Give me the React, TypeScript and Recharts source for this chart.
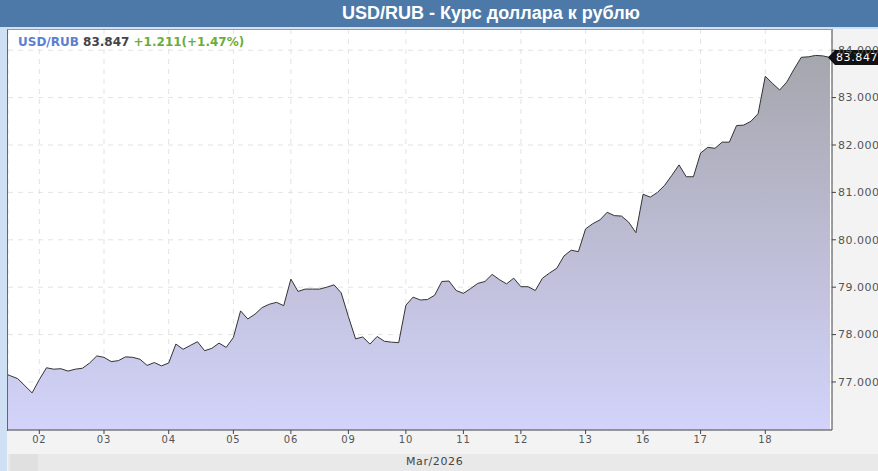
import React from "react";
import {
  AreaChart,
  Area,
  XAxis,
  YAxis,
  CartesianGrid,
  ReferenceDot,
} from "recharts";

// trading-day labels on the x axis and the slot where each day starts
const dayLabels = ["02", "03", "04", "05", "06", "09", "10", "11", "12", "13", "16", "17", "18"];
const dayStarts = [0, 9, 18, 27, 35, 43, 51, 59, 67, 76, 84, 92, 101];

// end of the previous session (slots -5..-1)
const feb27Tail = [77.19, 77.13, 77.07, 76.92, 76.77];

const day02 = [77.05, 77.3, 77.27, 77.28, 77.23, 77.27, 77.29, 77.4, 77.55];
const day03 = [77.52, 77.43, 77.45, 77.53, 77.52, 77.48, 77.35, 77.41, 77.34];
const day04 = [77.4, 77.8, 77.69, 77.77, 77.85, 77.66, 77.71, 77.82, 77.73];
const day05 = [77.94, 78.5, 78.33, 78.43, 78.57, 78.64, 78.68, 78.61];
const day06 = [79.17, 78.91, 78.96, 78.96, 78.96, 79.0, 79.05, 78.88];
const day09 = [78.38, 77.91, 77.95, 77.8, 77.96, 77.86, 77.84, 77.83];
const day10 = [78.62, 78.79, 78.73, 78.74, 78.83, 79.12, 79.13, 78.93];
const day11 = [78.87, 78.97, 79.08, 79.12, 79.27, 79.16, 79.07, 79.19];
const day12 = [79.01, 79.01, 78.93, 79.19, 79.3, 79.4, 79.66, 79.78, 79.75];
const day13 = [80.23, 80.34, 80.42, 80.58, 80.51, 80.5, 80.37, 80.15];
const day16 = [80.96, 80.9, 81.0, 81.15, 81.36, 81.58, 81.33, 81.33];
const day17 = [81.83, 81.95, 81.93, 82.06, 82.06, 82.41, 82.42, 82.5, 82.66];
const day18 = [83.45, 83.3, 83.16, 83.33, 83.6, 83.85, 83.86, 83.89, 83.88, 83.847];

const days = [day02, day03, day04, day05, day06, day09, day10, day11, day12, day13, day16, day17, day18];

const yTicks = [77, 78, 79, 80, 81, 82, 83, 84];

const lastPrice = 83.847;
const change = "+1.211(+1.47%)";

const data: { slot: number; rate: number }[] = [];
feb27Tail.forEach((v, j) => data.push({ slot: j - feb27Tail.length, rate: v }));
days.forEach((arr, i) => {
  arr.forEach((v, j) => data.push({ slot: dayStarts[i] + j, rate: v }));
});
const lastSlot = data[data.length - 1].slot;

const PriceTag = (props: any) => {
  const { cx, cy } = props;
  return (
    <g>
      <path
        d={`M${cx - 2},${cy} L${cx + 5},${cy - 7.5} L878,${cy - 7.5} L878,${cy + 7.5} L${cx + 5},${cy + 7.5} Z`}
        fill="#111"
      />
      <text
        x={cx + 6}
        y={cy + 4}
        fill="#fff"
        fontSize={11}
        fontFamily="DejaVu Sans"
        letterSpacing={0.6}
      >
        {lastPrice.toFixed(3)}
      </text>
    </g>
  );
};

export default function App() {
  return (
    <div
      style={{
        position: "absolute",
        left: 0,
        top: 0,
        width: 878,
        height: 471,
        background: "#cfe0f4",
        overflow: "hidden",
      }}
    >
      {/* title bar */}
      <div
        style={{
          position: "absolute",
          left: 0,
          top: 0,
          width: 878,
          height: 27,
          background: "#4d79a9",
        }}
      >
        <div
          style={{
            position: "absolute",
            left: 491,
            top: 13,
            transform: "translate(-50%, -50%)",
            whiteSpace: "nowrap",
            color: "#fff",
            fontWeight: "bold",
            fontSize: 18,
            fontFamily: "'Liberation Sans Narrow', 'Arial Narrow', 'Liberation Sans', sans-serif",
          }}
        >
          USD/RUB - Курс доллара к рублю
        </div>
      </div>
      {/* chart panel */}
      <div
        style={{
          position: "absolute",
          left: 7,
          top: 29,
          width: 871,
          height: 442,
          background: "#f3f3f3",
        }}
      />
      {/* bottom date band */}
      <div
        style={{
          position: "absolute",
          left: 8,
          top: 454,
          width: 870,
          height: 17,
          background: "#e9e9e9",
        }}
      />
      <div
        style={{
          position: "absolute",
          left: 10,
          top: 454,
          width: 28,
          height: 17,
          background: "#e0e0e0",
        }}
      />
      <div
        style={{
          position: "absolute",
          left: 406,
          top: 455,
          fontSize: 11,
          fontFamily: "DejaVu Sans",
          color: "#444",
          letterSpacing: 0.6,
        }}
      >
        Mar/2026
      </div>
      <div style={{ position: "absolute", left: 0, top: 0 }}>
        <AreaChart
          width={878}
          height={471}
          data={data}
          margin={{ top: 29, right: 0, bottom: 16, left: 8 }}
        >
          <defs>
            <linearGradient id="rateFill" x1="0" y1="0" x2="0" y2="1">
              <stop offset="0%" stopColor="#a6a6ae" />
              <stop offset="100%" stopColor="#d3d3fb" />
            </linearGradient>
          </defs>
          <CartesianGrid
            fill="#ffffff"
            stroke="#e3e3e3"
            strokeDasharray="5 5"
          />
          <XAxis
            dataKey="slot"
            type="number"
            domain={[-4.355, 110.28]}
            allowDataOverflow
            ticks={dayStarts}
            tickFormatter={(v: number) => dayLabels[dayStarts.indexOf(v)]}
            height={25}
            tickSize={4}
            axisLine={{ stroke: "#444" }}
            tickLine={{ stroke: "#444" }}
            tick={{ fontSize: 10, fill: "#555", fontFamily: "DejaVu Sans", letterSpacing: 0.8 }}
          />
          <YAxis
            orientation="right"
            domain={[75.987, 84.447]}
            allowDataOverflow
            ticks={yTicks}
            tickFormatter={(v: number) => v.toFixed(3)}
            width={46}
            tickSize={4}
            axisLine={{ stroke: "#444" }}
            tickLine={{ stroke: "#444" }}
            tick={{ fontSize: 11, fill: "#555", fontFamily: "DejaVu Sans", letterSpacing: 0.5, textAnchor: "start" }}
          />
          <Area
            type="linear"
            dataKey="rate"
            stroke="#333"
            strokeWidth={1}
            fill="url(#rateFill)"
            fillOpacity={1}
            dot={false}
            activeDot={false}
            isAnimationActive={false}
          />
          <ReferenceDot
            x={lastSlot}
            y={lastPrice}
            ifOverflow="visible"
            shape={PriceTag}
          />
        </AreaChart>
      </div>
      {/* plot frame */}
      <div
        style={{
          position: "absolute",
          left: 7,
          top: 29,
          width: 824,
          height: 401,
          borderLeft: "1px solid #666",
          borderTop: "1px solid #999",
          pointerEvents: "none",
        }}
      />
      {/* legend */}
      <div
        style={{
          position: "absolute",
          left: 18,
          top: 35,
          fontSize: 12,
          fontWeight: "bold",
          fontFamily: "DejaVu Sans",
          whiteSpace: "nowrap",
        }}
      >
        <span style={{ color: "#5b7fd2" }}>USD/RUB</span>{" "}
        <span style={{ color: "#444" }}>{lastPrice.toFixed(3)}</span>{" "}
        <span style={{ color: "#6aae3a" }}>{change}</span>
      </div>
    </div>
  );
}
